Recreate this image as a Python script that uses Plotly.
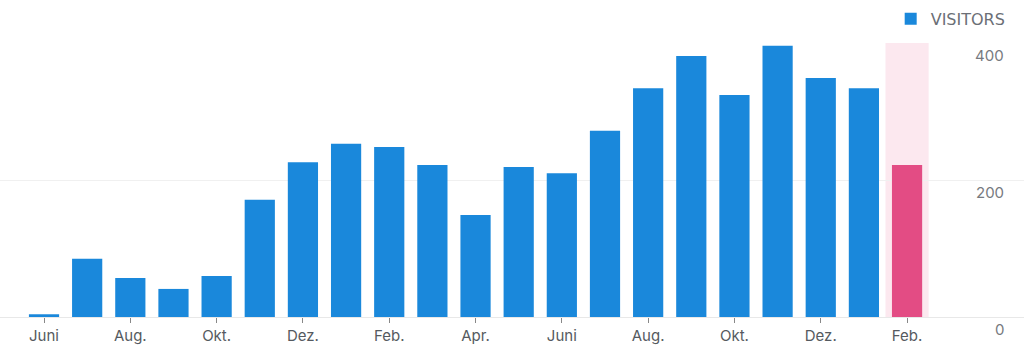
import plotly.graph_objects as go

months = ["Juni", "Juli", "Aug.", "Sep.", "Okt.", "Nov.", "Dez.", "Jan.", "Feb.", "März", "Apr.", "Mai",
          "Juni", "Juli", "Aug.", "Sep.", "Okt.", "Nov.", "Dez.", "Jan.", "Feb."]
visitors = [4, 85, 57, 41, 60, 171, 226, 253, 248, 222, 149, 219, 210, 272, 334, 381, 324, 396, 349, 334, 222]
y_ticks = [0, 200, 400]
highlight_index = 20

blue = "#1a88db"
pink = "#e34c84"
colors = [pink if i == highlight_index else blue for i in range(len(visitors))]
x_idx = list(range(len(visitors)))
tick_idx = x_idx[::2]
tick_txt = [months[i] for i in tick_idx]

fig = go.Figure()
fig.add_trace(go.Bar(
    x=x_idx, y=visitors, name="VISITORS",
    marker=dict(color=colors, line=dict(width=0)),
    showlegend=True,
))

fig.add_shape(type="rect", xref="x", yref="y",
              x0=highlight_index - 0.5, x1=highlight_index + 0.5, y0=0, y1=max(y_ticks),
              fillcolor="#fce8ef", line=dict(width=0), layer="below")

for v in y_ticks:
    fig.add_annotation(xref="paper", yref="y", x=0.982, y=v, text=str(v),
                       showarrow=False, xanchor="right", yanchor="top", yshift=-1,
                       font=dict(size=15, color="#777a80"))

fig.update_layout(
    width=1024, height=359,
    margin=dict(l=0, r=0, t=43, b=42, autoexpand=False),
    paper_bgcolor="white", plot_bgcolor="white",
    font=dict(family="Inter, Roboto, sans-serif", color="#555a60"),
    bargap=0.3,
    showlegend=True,
    legend=dict(orientation="h", x=0.987, xanchor="right", y=0.995, yref="container", yanchor="top",
                font=dict(size=16, color="#6b6f76", family="DejaVu Sans"), itemwidth=30,
                bgcolor="rgba(0,0,0,0)"),
    xaxis=dict(
        range=[-1.02, 22.71], tickmode="array", tickvals=tick_idx, ticktext=tick_txt,
        showgrid=False, zeroline=False, showline=False,
        ticks="outside", ticklen=5, tickcolor="#888", tickwidth=1,
        tickfont=dict(size=15, color="#555a60"),
    ),
    yaxis=dict(
        range=[0, 400], tickmode="array", tickvals=y_ticks, showticklabels=False,
        showgrid=True, gridcolor="#f0f0f0", gridwidth=1,
        zeroline=True, zerolinecolor="#e8e8e8", zerolinewidth=1,
    ),
)

fig.write_html("out.html", config={"displayModeBar": False},
               post_script="document.body.style.margin='0';")
